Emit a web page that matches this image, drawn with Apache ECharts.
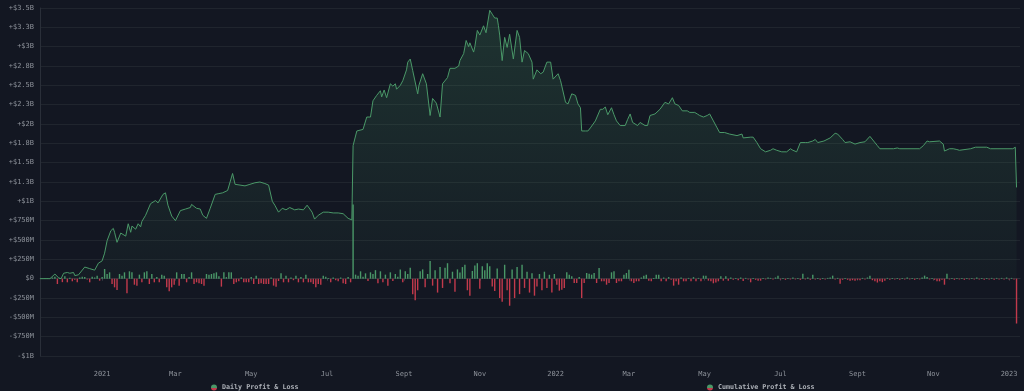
<!DOCTYPE html>
<html>
<head>
<meta charset="utf-8">
<script src="https://cdn.jsdelivr.net/npm/echarts@6/dist/echarts.min.js"></script>
<style>
html,body{margin:0;padding:0;background:#131722;}
#chart{width:1024px;height:391px;}
</style>
</head>
<body>
<div id="chart"></div>
<script>
// ---------- DATA ----------
// Cumulative profit & loss (in $B)
const cumDates = [
'2020-11-12','2020-11-20','2020-11-24','2020-11-27','2020-11-29','2020-12-01','2020-12-04','2020-12-06','2020-12-09','2020-12-10',
'2020-12-13','2020-12-18','2020-12-22','2020-12-26','2020-12-29','2021-01-01','2021-01-03','2021-01-05','2021-01-08','2021-01-10',
'2021-01-11','2021-01-13','2021-01-16','2021-01-20','2021-01-22','2021-01-24','2021-01-25','2021-01-28','2021-01-30','2021-02-01',
'2021-02-02','2021-02-05','2021-02-09','2021-02-13','2021-02-15','2021-02-19','2021-02-21','2021-02-23','2021-02-26','2021-03-01',
'2021-03-05','2021-03-09','2021-03-13','2021-03-14','2021-03-18','2021-03-21','2021-03-23','2021-03-26','2021-03-29','2021-04-02',
'2021-04-05','2021-04-08','2021-04-12','2021-04-16','2021-04-18','2021-04-22','2021-04-26','2021-04-30','2021-05-04','2021-05-08',
'2021-05-12','2021-05-15','2021-05-18','2021-05-20','2021-05-23','2021-05-26','2021-05-29','2021-06-01','2021-06-05','2021-06-08',
'2021-06-12','2021-06-15','2021-06-19','2021-06-21','2021-06-24','2021-06-28','2021-07-02','2021-07-06','2021-07-10','2021-07-14',
'2021-07-18','2021-07-21','2021-07-22','2021-07-25','2021-07-30','2021-08-02','2021-08-05','2021-08-07','2021-08-10','2021-08-13',
'2021-08-14','2021-08-16','2021-08-18','2021-08-21','2021-08-23','2021-08-25','2021-08-26','2021-08-29','2021-08-31','2021-09-03',
'2021-09-04','2021-09-06','2021-09-07','2021-09-08','2021-09-12','2021-09-13','2021-09-16','2021-09-19','2021-09-20','2021-09-22',
'2021-09-24','2021-09-27','2021-09-28','2021-09-30','2021-10-02','2021-10-06','2021-10-08','2021-10-12','2021-10-15','2021-10-16',
'2021-10-19','2021-10-20','2021-10-21','2021-10-23','2021-10-24','2021-10-27','2021-10-28','2021-10-30','2021-11-01','2021-11-04',
'2021-11-06','2021-11-09','2021-11-11','2021-11-13','2021-11-15','2021-11-16','2021-11-17','2021-11-19','2021-11-21','2021-11-23',
'2021-11-25','2021-11-28','2021-12-01','2021-12-03','2021-12-05','2021-12-07','2021-12-10','2021-12-13','2021-12-14','2021-12-17',
'2021-12-20','2021-12-22','2021-12-25','2021-12-28','2021-12-30','2022-01-03','2022-01-05','2022-01-09','2022-01-11','2022-01-14',
'2022-01-17','2022-01-19','2022-01-21','2022-01-22','2022-01-25','2022-01-27','2022-01-29','2022-02-02','2022-02-06','2022-02-08',
'2022-02-10','2022-02-12','2022-02-15','2022-02-17','2022-02-19','2022-02-22','2022-02-26','2022-02-28','2022-03-02','2022-03-04',
'2022-03-08','2022-03-10','2022-03-14','2022-03-16','2022-03-18','2022-03-22','2022-03-26','2022-03-30','2022-04-02','2022-04-05',
'2022-04-07','2022-04-10','2022-04-13','2022-04-17','2022-04-19','2022-04-23','2022-04-25','2022-04-27','2022-04-30','2022-05-03',
'2022-05-05','2022-05-08','2022-05-11','2022-05-13','2022-05-17','2022-05-21','2022-05-27','2022-05-31','2022-06-01','2022-06-07',
'2022-06-09','2022-06-12','2022-06-15','2022-06-19','2022-06-23','2022-06-25','2022-06-28','2022-07-02','2022-07-06','2022-07-09',
'2022-07-11','2022-07-14','2022-07-17','2022-07-21','2022-07-23','2022-07-27','2022-07-29','2022-07-31','2022-08-05','2022-08-10',
'2022-08-14','2022-08-16','2022-08-20','2022-08-22','2022-08-26','2022-08-30','2022-09-03','2022-09-07','2022-09-11','2022-09-14',
'2022-09-17','2022-09-19','2022-09-30','2022-10-03','2022-10-05','2022-10-21','2022-10-24','2022-10-27','2022-10-29','2022-11-06',
'2022-11-09','2022-11-10','2022-11-14','2022-11-17','2022-11-20','2022-11-22','2022-12-01','2022-12-05','2022-12-14','2022-12-17',
'2023-01-04','2023-01-06','2023-01-07'
];
const cumValuesB = [
0.00,0.00,0.06,0.01,0.00,0.07,0.08,0.07,0.08,0.04,
0.05,0.15,0.13,0.11,0.20,0.23,0.33,0.49,0.62,0.65,
0.60,0.47,0.59,0.55,0.71,0.60,0.68,0.64,0.71,0.67,
0.74,0.82,0.97,1.01,0.98,1.09,1.11,0.95,0.81,0.75,
0.88,0.90,0.92,0.96,0.91,0.90,0.82,0.78,0.91,1.09,
1.10,1.11,1.14,1.36,1.22,1.21,1.20,1.22,1.24,1.25,
1.23,1.21,1.00,0.95,0.86,0.91,0.89,0.92,0.89,0.90,
0.89,0.95,0.86,0.77,0.82,0.86,0.86,0.85,0.85,0.84,
0.78,0.76,1.72,1.91,1.93,2.09,2.09,2.30,2.37,2.43,
2.35,2.44,2.34,2.52,2.49,2.52,2.45,2.50,2.56,2.70,
2.80,2.84,2.85,2.69,2.39,2.50,2.65,2.52,2.53,2.11,
2.33,2.27,2.25,2.09,2.52,2.60,2.72,2.72,2.75,2.82,
2.91,2.91,3.08,3.00,3.05,2.93,3.00,3.21,3.15,3.27,
3.18,3.47,3.42,3.37,3.37,3.27,3.15,2.82,3.12,2.99,
3.16,2.84,3.21,3.12,2.80,2.95,2.91,2.80,2.58,2.70,
2.65,2.67,2.80,2.80,2.58,2.65,2.56,2.28,2.26,2.39,
2.37,2.26,2.21,1.91,1.91,1.91,1.95,2.04,2.19,2.19,
2.22,2.12,2.21,2.12,2.04,1.98,1.98,2.06,2.13,2.02,
1.98,2.02,1.98,1.98,2.11,2.13,2.19,2.28,2.26,2.34,
2.26,2.24,2.17,2.17,2.15,2.15,2.13,2.11,2.09,2.11,
2.13,2.04,1.95,1.89,1.89,1.87,1.85,1.87,1.82,1.83,
1.83,1.76,1.68,1.64,1.66,1.68,1.66,1.64,1.64,1.68,
1.66,1.64,1.76,1.76,1.76,1.78,1.80,1.76,1.78,1.82,
1.88,1.87,1.80,1.76,1.77,1.74,1.76,1.77,1.84,1.78,
1.72,1.68,1.68,1.69,1.68,1.68,1.72,1.78,1.77,1.78,
1.74,1.65,1.68,1.68,1.67,1.66,1.68,1.70,1.70,1.68,
1.68,1.70,1.18
];

// Daily profit & loss (in $M), one bar every 2 days starting at dailyStart
const dailyStart = '2020-11-12';
const dailyStepDays = 2;
const dailyValuesM = [
0,2,5,8,3,15,26,-69,10,-45,30,-47,12,-34,-15,-47,15,26,20,-10,
-47,26,15,39,-26,20,125,60,82,-69,-112,-147,60,39,82,-190,95,82,-78,-90,
52,-47,82,95,-69,60,-47,20,-47,52,39,-112,-164,-112,-78,82,-90,60,60,-47,
20,82,-69,-47,-60,-69,-90,60,52,60,69,82,30,-103,82,20,82,82,-69,-47,
-34,15,-47,-47,-47,20,-69,39,-69,-60,-69,-69,-69,15,-90,-103,-30,69,-47,39,
-47,15,-20,39,-47,20,-47,52,-47,-47,-69,-112,-69,-78,39,26,10,-47,15,-20,
-34,15,-60,-69,20,-47,960,52,39,95,26,69,-30,82,60,110,-60,95,-47,52,
-90,82,-30,60,26,120,-47,95,60,140,-200,-280,-150,95,120,-110,60,230,-90,110,
-180,150,-120,140,200,-60,90,-170,120,80,150,180,-150,-220,100,170,200,-130,160,110,
200,160,-100,-160,130,-250,-300,180,-150,-350,120,-250,150,-200,180,-120,90,-180,70,-220,
-100,60,-150,90,-120,50,-180,60,-80,-155,-142,-120,82,52,30,-56,-56,20,-250,-56,
73,64,52,73,-56,138,-34,-34,-78,-56,82,95,-56,-34,-34,52,73,116,-34,-56,
-34,-34,15,39,52,-26,-34,10,52,52,-34,15,-34,20,-15,-90,-34,-78,15,-34,
-34,10,-34,20,-34,10,-34,39,39,-26,-34,-60,-50,-34,30,-26,30,-26,15,-15,
10,-20,15,-30,10,-10,-47,10,-15,-26,-26,10,-10,15,10,-10,15,39,-10,10,
-15,10,-10,15,-10,10,-15,64,-10,15,-15,52,-10,10,-15,10,-10,10,15,39,
-10,10,-65,-15,10,-15,-26,-20,-26,-15,-20,10,-10,15,39,-20,-34,-50,-34,-45,
-26,10,-15,10,-10,10,-15,10,-10,15,-10,10,-15,10,-10,15,39,20,-10,10,
-15,-34,-34,-15,-78,64,-10,10,-15,10,-10,10,-15,10,-10,10,-10,15,-10,10,
-15,10,-10,10,-15,10,-10,10,-10,15,-10,10,-10,-580
];

// Axis ticks and labels
const xTickDates = ['2021-01-01','2021-03-01','2021-05-01','2021-07-01','2021-09-01','2021-11-01',
                    '2022-01-01','2022-03-01','2022-05-01','2022-07-01','2022-09-01','2022-11-01','2023-01-01'];
const xTickLabels = ['2021','Mar','May','Jul','Sept','Nov','2022','Mar','May','Jul','Sept','Nov','2023'];
const yTickValuesM = [-1000,-750,-500,-250,0,250,500,750,1000,1250,1500,1750,2000,2250,2500,2750,3000,3250,3500];
const yTickLabels = ['-$1B','-$750M','-$500M','-$250M','$0','+$250M','+$500M','+$750M','+$1B','+$1.3B','+$1.5B','+$1.8B','+$2B','+$2.3B','+$2.5B','+$2.8B','+$3B','+$3.3B','+$3.5B'];
const seriesNames = ['Daily Profit & Loss','Cumulative Profit & Loss'];

// ---------- CHART ----------
function ts(s){ const p = s.split('-').map(Number); return Date.UTC(p[0], p[1]-1, p[2]); }
const DAY = 86400000;
const GREEN = '#4a9868';
const RED = '#c23a4c';
const AXIS_FONT = 'DejaVu Sans Mono';

const xTickTs = xTickDates.map(ts);
const lineData = cumDates.map((d,i)=>[ts(d), cumValuesB[i]*1000]);
const barData = dailyValuesM.map((v,i)=>[ts(dailyStart) + i*dailyStepDays*DAY, v]);

const chart = echarts.init(document.getElementById('chart'), null, {renderer:'canvas'});

const legendIcon = new echarts.graphic.LinearGradient(0,0,0,1,[
  {offset:0,color:GREEN},{offset:0.5,color:GREEN},{offset:0.5,color:RED},{offset:1,color:RED}
]);
const legendCommon = {
  top: 379, icon: 'circle', itemWidth: 6, itemHeight: 6, itemGap: 4, selectedMode: false,
  textStyle: {fontFamily: AXIS_FONT, fontSize: 6.7, fontWeight: 'bold', color: '#aeb2b9'},
  itemStyle: {color: legendIcon}
};

chart.setOption({
  backgroundColor: '#131722',
  animation: false,
  grid: {left: 40, right: 4, top: 8, bottom: 35},
  legend: [
    Object.assign({data:[seriesNames[0]], left: 206}, legendCommon),
    Object.assign({data:[seriesNames[1]], left: 702}, legendCommon)
  ],
  xAxis: {
    type: 'value',
    min: ts('2020-11-12'),
    max: ts('2023-01-09') + 19*3600000,
    offset: 9,
    axisLine: {show: true, lineStyle: {color: '#2a2f39', width: 1}},
    axisTick: {show: true, length: 2, customValues: xTickTs, lineStyle: {color: '#3a3f49'}},
    axisLabel: {
      customValues: xTickTs,
      formatter: function(v){ const i = xTickTs.indexOf(v); return i >= 0 ? xTickLabels[i] : ''; },
      fontFamily: AXIS_FONT, fontSize: 7, color: '#8d929a', margin: 6
    },
    splitLine: {show: false}
  },
  yAxis: {
    type: 'value', min: -1000, max: 3500, interval: 250,
    axisLine: {show: true, lineStyle: {color: '#2a2f39'}},
    axisTick: {show: false},
    axisLabel: {
      formatter: function(v){ const i = yTickValuesM.indexOf(Math.round(v)); return i >= 0 ? yTickLabels[i] : ''; },
      fontFamily: AXIS_FONT, fontSize: 7, color: '#8d929a', margin: 6
    },
    splitLine: {show: true, lineStyle: {color: '#20252e', width: 1}}
  },
  series: [
    {
      name: seriesNames[0], type: 'bar', data: barData, barWidth: 1.4,
      itemStyle: {color: function(p){ return p.value[1] >= 0 ? GREEN : RED; }}
    },
    {
      name: seriesNames[1], type: 'line', data: lineData, showSymbol: false, symbol: 'none',
      lineStyle: {width: 1, color: GREEN},
      itemStyle: {color: GREEN},
      areaStyle: {
        color: new echarts.graphic.LinearGradient(0,0,0,1,[
          {offset:0, color:'rgba(70,150,100,0.32)'},
          {offset:1, color:'rgba(70,150,100,0.06)'}
        ])
      }
    }
  ]
});
</script>
</body>
</html>
